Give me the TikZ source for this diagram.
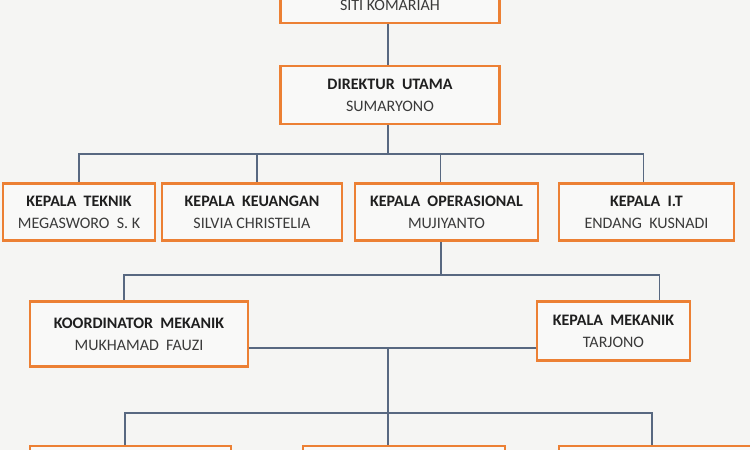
\documentclass[tikz,border=0pt]{standalone}
\usepackage{fontspec}
\setmainfont{Carlito}
\usepackage{tikz}

\definecolor{oranye}{RGB}{236,128,52}
\definecolor{garisbiru}{RGB}{88,104,128}
\definecolor{latar}{RGB}{245,245,243}
\definecolor{isikotak}{RGB}{249,249,248}
\definecolor{namaabu}{RGB}{58,58,58}
\newcommand{\jab}[2]{\textbf{#1}\\{\color{namaabu}#2}}

\begin{document}
\begin{tikzpicture}[x=1pt,y=-1pt,
    kotak/.style={draw=oranye, line width=2.6pt, fill=isikotak, inner sep=0pt,
        minimum height=57pt, align=center, text={black!88},
        font=\fontsize{16}{22}\selectfont},
    garis/.style={draw=garisbiru, line width=1.3pt}]
    \fill[latar] (0,0) rectangle (750,450);
    \useasboundingbox (0,0) rectangle (750,450);
    \clip (0,0) rectangle (750,450);

    % pimpinan
    \node[kotak, minimum width=219pt, minimum height=58pt] (komisaris) at (390,-6)
        {\jab{\phantom{X}}{SITI KOMARIAH}};
    \node[kotak, minimum width=219pt, minimum height=58pt] (direktur) at (390,95)
        {\jab{DIREKTUR~~UTAMA}{SUMARYONO}};

    % kepala bagian
    \node[kotak, minimum width=152pt] (teknik) at (79,212)
        {\jab{KEPALA~~TEKNIK}{MEGASWORO~~S.~K}};
    \node[kotak, minimum width=180pt] (keuangan) at (252,212)
        {\jab{KEPALA~~KEUANGAN}{SILVIA CHRISTELIA}};
    \node[kotak, minimum width=183pt] (operasional) at (446.5,212)
        {\jab{KEPALA~~OPERASIONAL}{MUJIYANTO}};
    \node[kotak, minimum width=175pt] (it) at (646.5,212)
        {\jab{KEPALA~~I.T}{ENDANG~~KUSNADI}};

    % mekanik
    \node[kotak, minimum width=218pt, minimum height=65pt] (koordinator) at (139,334)
        {\jab{KOORDINATOR~~MEKANIK}{MUKHAMAD~~FAUZI}};
    \node[kotak, minimum width=153pt, minimum height=59pt] (mekanik) at (613.5,331)
        {\jab{KEPALA~~MEKANIK}{TARJONO}};

    % baris bawah (terpotong)
    \node[kotak, minimum width=201pt, minimum height=60pt] (bawahkiri) at (130.5,476) {};
    \node[kotak, minimum width=202pt, minimum height=60pt] (bawahtengah) at (404,476) {};
    \node[kotak, minimum width=202pt, minimum height=60pt] (bawahkanan) at (660,476) {};

    \coordinate (cabang1) at (388,154);
    \coordinate (cabang2) at (441,275);
    \coordinate (cabang3) at (388,348);
    \coordinate (cabang4) at (388,413);

    \draw[garis] (komisaris.south -| cabang1) -- (direktur.north -| cabang1);
    \draw[garis] (direktur.south -| cabang1) -- (cabang1);
    \foreach \n/\dx in {teknik/0,keuangan/5,operasional/-6,it/-3}
        \draw[garis] (cabang1) -| ([xshift=\dx pt]\n.north);

    \draw[garis] (operasional.south -| cabang2) -- (cabang2);
    \draw[garis] (cabang2) -| ([xshift=-15pt]koordinator.north);
    \draw[garis] (cabang2) -| ([xshift=46pt]mekanik.north);

    \draw[garis] (koordinator.east |- cabang3) -- (mekanik.west |- cabang3);
    \draw[garis] (cabang3) -- (bawahtengah.north -| cabang3);
    \draw[garis] (cabang4) -| ([xshift=-5.5pt]bawahkiri.north);
    \draw[garis] (cabang4) -| ([xshift=-8pt]bawahkanan.north);
\end{tikzpicture}
\end{document}
